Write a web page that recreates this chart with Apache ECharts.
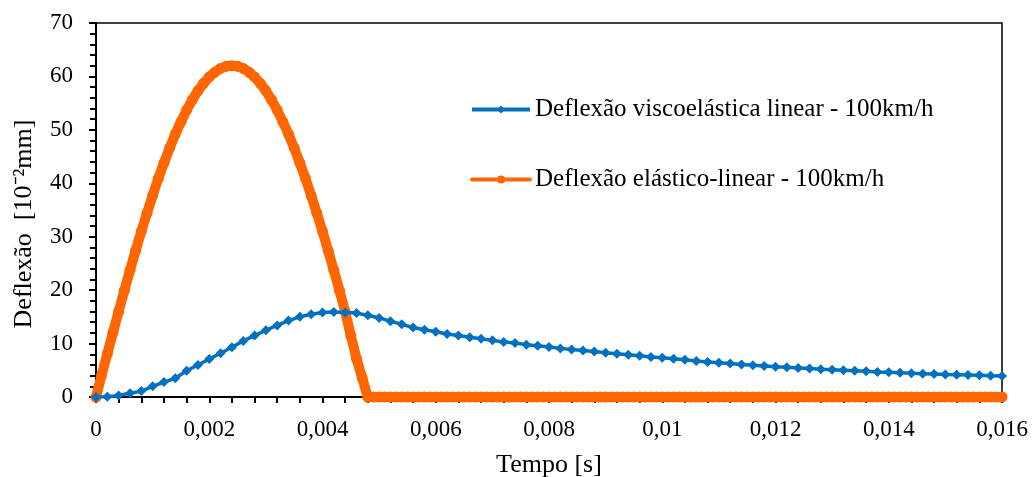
<!DOCTYPE html>
<html>
<head>
<meta charset="utf-8">
<script src="https://cdn.jsdelivr.net/npm/echarts@6/dist/echarts.min.js"></script>
<style>
  html, body { margin: 0; padding: 0; background: #fff; }
  #chart { width: 1035px; height: 477px; }
</style>
</head>
<body>
<div id="chart"></div>
<script>
// Time step of each sampled series (s)
const viscoStep = 0.0002;
const elasticStep = 0.0001;

// Deflexão viscoelástica linear - 100km/h  (10^-2 mm), t = 0 ... 0.016 s
const viscoValues = [
  0, 0.05, 0.3, 0.7, 1.1, 2.0, 2.8, 3.5, 4.9, 6.0,
  7.1, 8.2, 9.3, 10.5, 11.5, 12.5, 13.4, 14.3, 15.0, 15.5,
  15.8, 15.9, 15.8, 15.7, 15.3, 14.8, 14.2, 13.6, 13.0, 12.6,
  12.2, 11.8, 11.5, 11.2, 10.9, 10.6, 10.3, 10.1, 9.8, 9.6,
  9.35, 9.1, 8.9, 8.7, 8.5, 8.3, 8.1, 7.9, 7.7, 7.5,
  7.35, 7.15, 6.95, 6.75, 6.55, 6.4, 6.25, 6.1, 5.95, 5.8,
  5.65, 5.55, 5.45, 5.35, 5.2, 5.1, 5.0, 4.9, 4.8, 4.7,
  4.65, 4.55, 4.45, 4.35, 4.3, 4.2, 4.15, 4.1, 4.05, 4.0,
  3.95
];

// Deflexão elástico-linear - 100km/h  (10^-2 mm), t = 0 ... 0.016 s
const elasticValues = [
  0, 4.1, 8.1, 12.1, 16.0, 19.9, 23.7, 27.4, 31.0, 34.4,
  37.7, 40.9, 43.8, 46.6, 49.2, 51.5, 53.7, 55.6, 57.3, 58.7,
  59.9, 60.8, 61.5, 61.9, 62.0, 61.9, 61.5, 60.8, 59.9, 58.7,
  57.3, 55.6, 53.7, 51.5, 49.2, 46.6, 43.8, 40.9, 37.7, 34.4,
  31.0, 27.4, 23.7, 19.9, 16.0, 11.5, 7.2, 3.6, 0, 0,
  0, 0, 0, 0, 0, 0, 0, 0, 0, 0,
  0, 0, 0, 0, 0, 0, 0, 0, 0, 0,
  0, 0, 0, 0, 0, 0, 0, 0, 0, 0,
  0, 0, 0, 0, 0, 0, 0, 0, 0, 0,
  0, 0, 0, 0, 0, 0, 0, 0, 0, 0,
  0, 0, 0, 0, 0, 0, 0, 0, 0, 0,
  0, 0, 0, 0, 0, 0, 0, 0, 0, 0,
  0, 0, 0, 0, 0, 0, 0, 0, 0, 0,
  0, 0, 0, 0, 0, 0, 0, 0, 0, 0,
  0, 0, 0, 0, 0, 0, 0, 0, 0, 0,
  0, 0, 0, 0, 0, 0, 0, 0, 0, 0,
  0
];

const seriesNames = [
  'Deflexão viscoelástica linear - 100km/h',
  'Deflexão elástico-linear - 100km/h'
];

const xTitle = 'Tempo [s]';
const yTitle = 'Deflexão  [10⁻²mm]';

const BLUE = '#0070C0';
const ORANGE = '#FF6600';
const FONT = '"Liberation Serif", "Times New Roman", serif';

function pairs(values, step) {
  return values.map((v, i) => [+(i * step).toFixed(5), v]);
}

const chart = echarts.init(document.getElementById('chart'), null, { renderer: 'canvas' });

chart.setOption({
  animation: false,
  backgroundColor: '#ffffff',
  grid: {
    left: 96, right: 33, top: 23, bottom: 80,
    containLabel: false,
    outerBoundsMode: 'none',
    show: true, borderColor: '#000', borderWidth: 1.5, backgroundColor: 'transparent'
  },
  legend: {
    orient: 'vertical',
    left: 470,
    top: 97,
    padding: 0,
    itemWidth: 58,
    itemHeight: 10,
    itemGap: 45,
    textStyle: { fontFamily: FONT, fontSize: 25, color: '#000', padding: [0, 0, 0, 0] },
    data: [
      { name: seriesNames[0], lineStyle: { width: 4 } },
      { name: seriesNames[1], lineStyle: { width: 4 } }
    ]
  },
  xAxis: {
    type: 'value',
    min: 0, max: 0.016, interval: 0.002,
    name: xTitle,
    nameLocation: 'middle',
    nameGap: 55,
    nameTextStyle: { fontFamily: FONT, fontSize: 26, color: '#000' },
    axisLine: { onZero: false, lineStyle: { color: '#000', width: 2 } },
    axisTick: { show: true, inside: false, length: 6, lineStyle: { color: '#000', width: 2 } },
    minorTick: { show: true, splitNumber: 5, length: 6, lineStyle: { color: '#000', width: 2 } },
    splitLine: { show: false },
    axisLabel: {
      fontFamily: FONT, fontSize: 23, color: '#000', margin: 21,
      formatter: v => String(+(+v).toFixed(4)).replace('.', ',')
    }
  },
  yAxis: {
    type: 'value',
    min: 0, max: 70, interval: 10,
    axisLine: { show: true, lineStyle: { color: '#000', width: 2 } },
    axisTick: { show: true, inside: false, length: 7, lineStyle: { color: '#000', width: 2 } },
    minorTick: { show: true, splitNumber: 5, length: 6, lineStyle: { color: '#000', width: 2 } },
    splitLine: { show: false },
    axisLabel: { fontFamily: FONT, fontSize: 23, color: '#000', margin: 23 }
  },
  graphic: [{
    type: 'text',
    rotation: Math.PI / 2,
    x: 24,
    y: 224,
    style: {
      text: yTitle,
      fontFamily: FONT,
      fontSize: 26,
      fill: '#000',
      align: 'center',
      verticalAlign: 'middle'
    }
  }],
  series: [
    {
      name: seriesNames[1],
      type: 'line',
      data: pairs(elasticValues, elasticStep),
      z: 2,
      symbol: 'circle',
      symbolSize: 11,
      showAllSymbol: true,
      lineStyle: { color: ORANGE, width: 10, cap: 'round', join: 'round' },
      itemStyle: { color: ORANGE }
    },
    {
      name: seriesNames[0],
      type: 'line',
      data: pairs(viscoValues, viscoStep),
      z: 3,
      symbol: 'diamond',
      symbolSize: 10,
      showAllSymbol: true,
      lineStyle: { color: BLUE, width: 3.5 },
      itemStyle: { color: BLUE }
    }
  ]
});
</script>
</body>
</html>
